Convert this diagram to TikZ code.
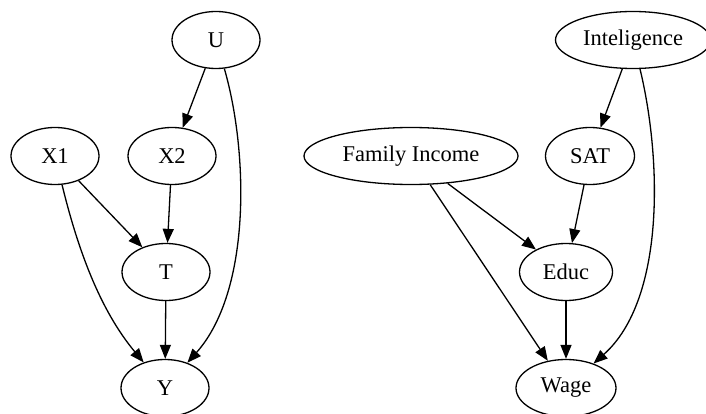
\documentclass[tikz,border=0pt]{standalone}
\usepackage{fontspec}
\setmainfont{Liberation Serif}
\usepackage{tikz}
\usetikzlibrary{arrows.meta,positioning,shapes.geometric}

\begin{document}
\begin{tikzpicture}[x=1pt,y=-1pt,
  var/.style={draw, ellipse, line width=1.3pt, inner sep=0pt,
    minimum width=88pt, minimum height=57pt, font=\fontsize{22.5}{26}\selectfont},
  link/.style={line width=1.3pt, -{Triangle[length=14pt,width=11pt]}}]
  \useasboundingbox (0,0) rectangle (706,414);
  \clip (0,0) rectangle (706,414);
  % left graph
  \node[var] (U)  at (216,40)  {U};
  \node[var] (X1) at (55,156)  {X1};
  \node[var] (X2) at (172,156) {X2};
  \node[var] (T)  at (166,272) {T};
  \node[var] (Y)  at (165,388) {Y};
  \draw[link] (U) -- (X2);
  \draw[link] (U) .. controls (248,150) and (252,290) .. (Y);
  \draw[link] (X1) -- (T);
  \draw[link] (X1) .. controls (78,250) and (100,310) .. (Y);
  \draw[link] (X2) -- (T);
  \draw[link] (T) -- (Y);
  % right graph
  \node[var, minimum width=155pt] (Intel) at (633,40) {Inteligence};
  \node[var, minimum width=214pt] (Income) at (411,156) {Family Income};
  \node[var, minimum width=89pt] (SAT) at (590,156) {SAT};
  \node[var, minimum width=93pt] (Educ) at (566,272) {Educ};
  \node[var, minimum width=100pt] (Wage) at (566,388) {Wage};
  \draw[link] (Intel) -- (SAT);
  \draw[link] (Intel) .. controls (662,160) and (665,300) .. (Wage);
  \draw[link] (Income) -- (Educ);
  \draw[link] (Income) -- (Wage);
  \draw[link] (SAT) -- (Educ);
  \draw[link] (Educ) -- (Wage);
\end{tikzpicture}
\end{document}
